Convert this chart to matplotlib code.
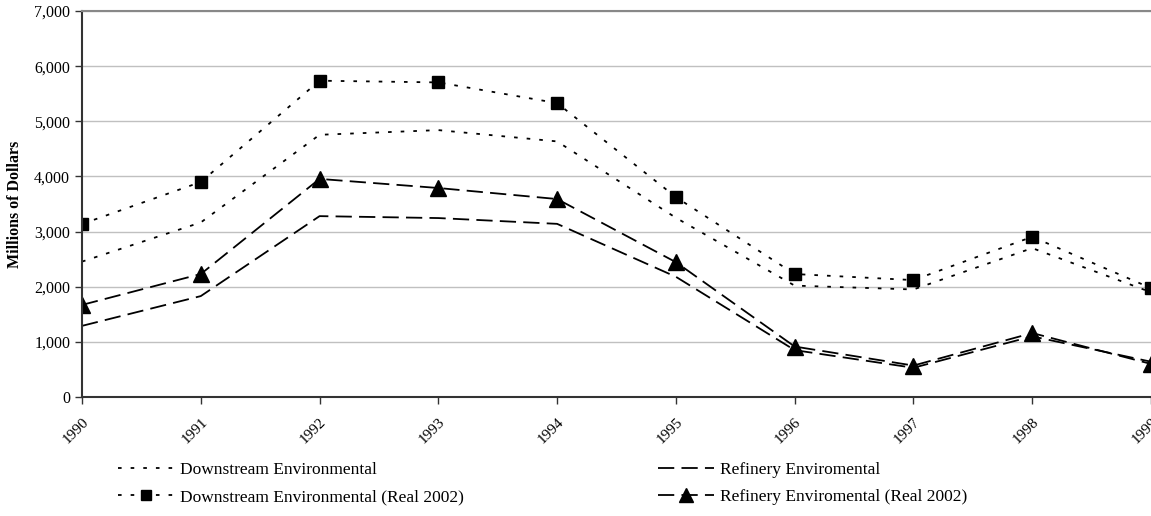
import matplotlib.pyplot as plt
from matplotlib.ticker import FuncFormatter, MultipleLocator

YEARS = [1990, 1991, 1992, 1993, 1994, 1995, 1996, 1997, 1998, 1999]
DOWNSTREAM = [2455, 3165, 4755, 4840, 4635, 3250, 2020, 1950, 2700, 1900]
DOWNSTREAM_REAL = [3137, 3899, 5736, 5705, 5330, 3625, 2230, 2120, 2905, 1975]
REFINERY = [1290, 1830, 3280, 3245, 3140, 2180, 850, 530, 1100, 640]
REFINERY_REAL = [1670, 2230, 3955, 3790, 3590, 2445, 915, 570, 1160, 600]

plt.rcParams["font.family"] = ["Liberation Serif", "DejaVu Serif"]

fig = plt.figure(figsize=(11.51, 5.16), dpi=100)
ax = fig.add_axes([82 / 1151, 1 - 397 / 516, 1 - 82 / 1151, 386 / 516])

dot = (0, (2, 5))
dash = (0, (9, 4))
l1, = ax.plot(YEARS, DOWNSTREAM, color="black", lw=1.3, ls=dot,
              label="Downstream Environmental")
l2, = ax.plot(YEARS, DOWNSTREAM_REAL, color="black", lw=1.3, ls=dot,
              marker="s", ms=8, label="Downstream Environmental (Real 2002)")
l3, = ax.plot(YEARS, REFINERY, color="black", lw=1.3, ls=dash,
              label="Refinery Enviromental")
l4, = ax.plot(YEARS, REFINERY_REAL, color="black", lw=1.3, ls=dash,
              marker="^", ms=11.5, label="Refinery Enviromental (Real 2002)")

ax.set_xlim(1990, 1999)
ax.set_ylim(0, 7000)
ax.yaxis.set_major_locator(MultipleLocator(1000))
ax.yaxis.set_major_formatter(FuncFormatter(lambda v, _: f"{v:,.0f}"))
ax.set_xticks(YEARS, [str(y) for y in YEARS], rotation=45, ha="right",
              rotation_mode="anchor", fontsize=11)
ax.tick_params(axis="y", labelsize=11.5, length=5, width=1, color="#333333")
ax.tick_params(axis="x", length=5, width=1, color="#333333", pad=8)
ax.grid(axis="y", color="#c0c0c0", lw=1)
ax.set_axisbelow(True)
for side in ("left", "bottom"):
    ax.spines[side].set_color("#333333")
    ax.spines[side].set_linewidth(1.5)
ax.spines["top"].set_color("#888888")
ax.spines["top"].set_linewidth(1.5)
ax.spines["right"].set_visible(False)
ax.set_ylabel("Millions of Dollars", fontsize=11.5, fontweight="bold", labelpad=8)

legend_kw = dict(frameon=False, fontsize=12.5, handlelength=3.2, handletextpad=0.4,
                 borderpad=0, borderaxespad=0, labelspacing=0.62, loc="upper left",
                 markerscale=0.85)
fig.legend(handles=[l1, l2], bbox_to_anchor=(118 / 1151, 1 - 462 / 516), **legend_kw)
fig.legend(handles=[l3, l4], bbox_to_anchor=(658 / 1151, 1 - 462 / 516), **legend_kw)

fig.savefig("out.png", dpi=100)
